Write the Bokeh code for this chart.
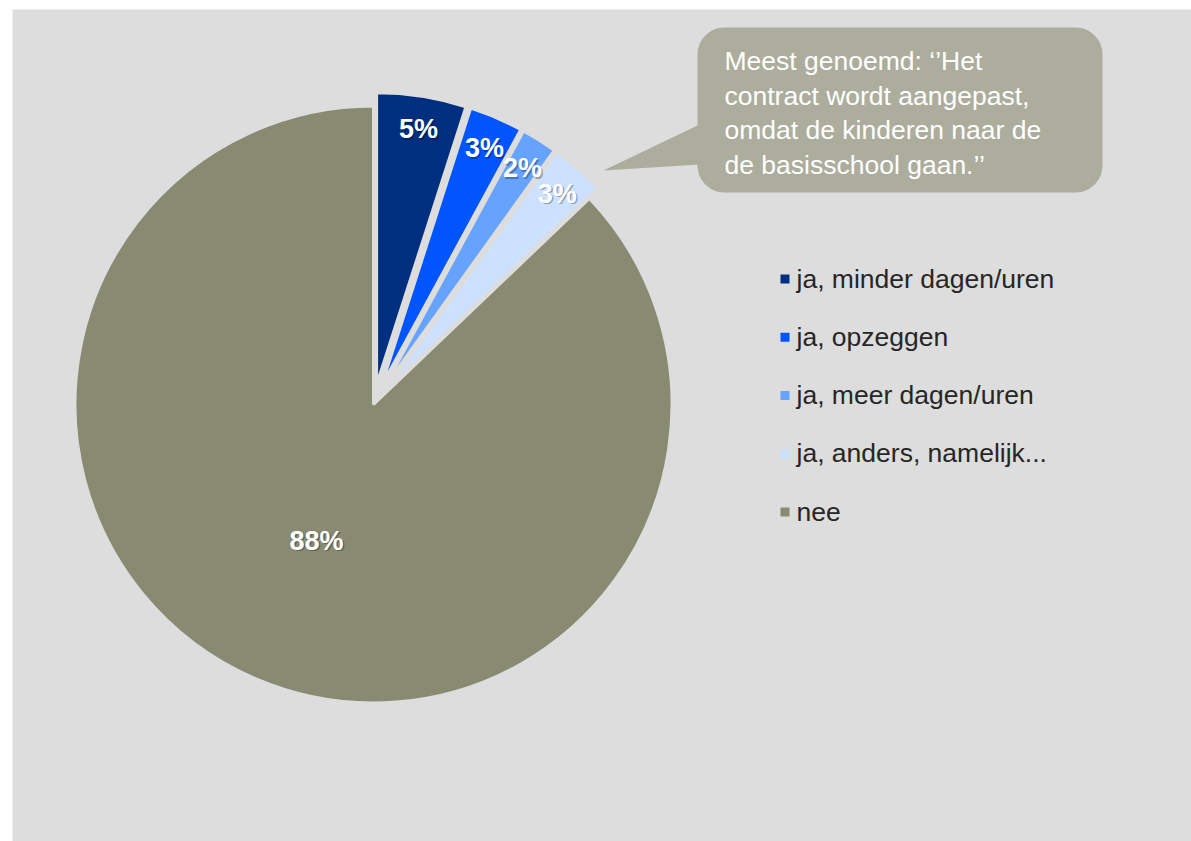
import numpy as np
from bokeh.plotting import figure
from bokeh.models import Range1d, ColumnDataSource
from bokeh.core.properties import value
from bokeh.embed import file_html
from bokeh.resources import INLINE

# ---- data ----
categories = ["ja, minder dagen/uren", "ja, opzeggen", "ja, meer dagen/uren",
              "ja, anders, namelijk...", "nee"]
values = [5, 3, 2, 3, 88]
labels = ["5%", "3%", "2%", "3%", "88%"]
colors = ["#002F7F", "#0055FF", "#66A3FF", "#CCE0FF", "#898A72"]
callout_lines = ["Meest genoemd: \u2018\u2019Het", "contract wordt aangepast,",
                 "omdat de kinderen naar de", "de basisschool gaan.\u2019\u2019"]

# ---- layout (page pixel coordinates) ----
H = 841
BG = "#DDDDDD"
FONT = value("Liberation Sans")
TXT_SHIFT = 11.0  # renderer places alphabetic baseline lower than requested


def Y(s):
    return H - np.asarray(s, dtype=float)


def YT(s):
    return H - (np.asarray(s, dtype=float) - TXT_SHIFT)


p = figure(width=1191, height=841, x_range=Range1d(12, 1191), y_range=Range1d(0, 832),
           output_backend="svg", toolbar_location=None, x_axis_type=None, y_axis_type=None,
           min_border_left=12, min_border_top=9, min_border_right=0, min_border_bottom=0,
           background_fill_color=BG, border_fill_color="white", outline_line_color=None)
p.grid.visible = False

# ---- pie ----
cx, cy = 373.0, 404.0
explode = np.array([20, 20, 20, 20, 0], dtype=float)
radius = np.array([292, 292, 292, 292, 298.5], dtype=float)
label_r = np.array([257, 257, 257, 257, 150], dtype=float)

fr = np.array(values, dtype=float) / sum(values)
cum = np.concatenate([[0.0], np.cumsum(fr)])
t0 = cum[:-1] * 2 * np.pi
t1 = cum[1:] * 2 * np.pi
mid = (t0 + t1) / 2
wx = cx + explode * np.sin(mid)
wy = cy - explode * np.cos(mid)

src = ColumnDataSource(dict(x=wx, y=Y(wy), r=radius, sa=np.pi / 2 - t0, ea=np.pi / 2 - t1,
                            color=colors))
p.wedge(x="x", y="y", radius="r", start_angle="sa", end_angle="ea", direction="clock",
        fill_color="color", line_color=BG, line_width=3, source=src)

lx = wx + label_r * np.sin(mid) + 2
ly = wy - label_r * np.cos(mid) + 9.5
p.text(x=lx + 1.5, y=YT(ly + 1.5), text=labels, text_font=FONT, text_font_size="27px",
       text_font_style="bold", text_color="#000000", text_alpha=0.3,
       text_align="center", text_baseline="alphabetic")
p.text(x=lx, y=YT(ly), text=labels, text_font=FONT, text_font_size="27px",
       text_font_style="bold", text_color="white",
       text_align="center", text_baseline="alphabetic")

# ---- callout ----
bx0, bx1, by0, by1, rr = 697.0, 1102.0, 27.0, 192.0, 27.0


def arc(xc, yc, a0, a1):
    a = np.linspace(a0, a1, 16)
    return list(xc + rr * np.cos(a)), list(yc + rr * np.sin(a))


pxs, pys = [], []
for (xc, yc, a0, a1) in [(bx1 - rr, by0 + rr, -np.pi / 2, 0), (bx1 - rr, by1 - rr, 0, np.pi / 2),
                         (bx0 + rr, by1 - rr, np.pi / 2, np.pi), (bx0 + rr, by0 + rr, np.pi, 1.5 * np.pi)]:
    ax, ay = arc(xc, yc, a0, a1)
    pxs += ax
    pys += ay
tri_x = [603.0, bx0 + 2, bx0 + 2]
tri_y = [170.0, 124.0, 164.0]
p.patches(xs=[pxs, tri_x], ys=[list(Y(pys)), list(Y(tri_y))], fill_color="#ACAD9C", line_color=None)

cb = 71.5 + 34.5 * np.arange(len(callout_lines))
p.text(x=[724] * len(callout_lines), y=YT(cb), text=callout_lines, text_font=FONT,
       text_font_size="26.5px", text_color="white", text_align="left", text_baseline="alphabetic")

# ---- legend ----
lb = 289 + 58.25 * np.arange(len(categories))
p.scatter(x=[784.5] * len(categories), y=Y(lb - 10.5), marker="square", size=9,
          fill_color=colors, line_color=None)
p.text(x=[796] * len(categories), y=YT(lb), text=categories, text_font=FONT,
       text_font_size="26.5px", text_color="#262626", text_align="left", text_baseline="alphabetic")

open("out.html", "w").write(file_html(p, INLINE))
